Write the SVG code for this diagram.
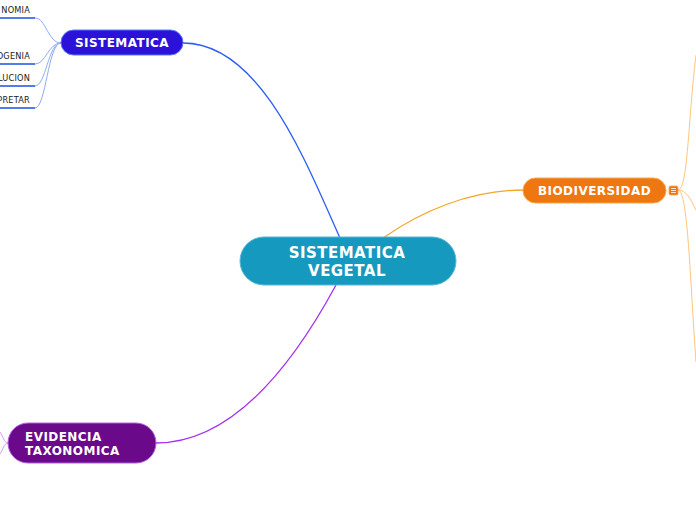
<svg xmlns="http://www.w3.org/2000/svg" width="696" height="520" viewBox="0 0 696 520">
<style>
.t{font-family:"DejaVu Sans",Verdana,sans-serif;font-weight:bold;fill:#fff;letter-spacing:0.45px}
.s{font-family:"DejaVu Sans",Verdana,sans-serif;font-size:8.2px;fill:#222;text-anchor:end;letter-spacing:0.2px}
.c{fill:none;stroke-width:1.3}
</style>
<rect width="696" height="520" fill="#fff"/>
<g id="connectors">
<path class="c" stroke="#2c5cf5" d="M183,43 C260,43 305,160 340,238"/>
<path class="c" stroke="#f5a52a" d="M383,238 C420,212 470,190 523,190"/>
<path class="c" stroke="#a42ef0" d="M336,285 C290,370 230,443 156,443"/>
<g stroke="#8eabf2" fill="none" stroke-width="1">
<path d="M61,43 C48,43 46,18 35,18"/>
<path d="M61,43 C48,43 46,64 35,64"/>
<path d="M61,43 C48,43 46,86 35,86"/>
<path d="M61,43 C48,43 46,108 35,108"/>
</g>
<g stroke="#1a50e0" stroke-width="1.5">
<path d="M0,18 H35"/><path d="M0,64 H35"/><path d="M0,86 H35"/><path d="M0,108 H35"/>
</g>
<g stroke="#fcc67c" fill="none" stroke-width="1">
<path d="M678,190 C688,190 688,120 696,55"/>
<path d="M678,190 C688,190 690,280 696,362"/>
<path d="M678,190 C686,190 690,198 696,210"/>
</g>
<g stroke="#d69af0" fill="none" stroke-width="1">
<path d="M8,443 C4,443 3,436 0,432"/>
<path d="M8,443 C4,443 3,450 0,454"/>
</g>
</g>
<g id="children-sistematica">
<text class="s" x="30" y="13">NOMIA</text>
<text class="s" x="30" y="59">OGENIA</text>
<text class="s" x="30" y="81">LUCION</text>
<text class="s" x="30" y="103">PRETAR</text>
</g>
<g id="center">
<rect x="240" y="237" width="216" height="48" rx="24" fill="#1599bf" stroke="#5ab8d8" stroke-width="1"/>
<text class="t" font-size="15" text-anchor="middle" x="347" y="258">SISTEMATICA</text>
<text class="t" font-size="15" text-anchor="middle" x="347" y="276">VEGETAL</text>
</g>
<g id="sistematica">
<rect x="61" y="30" width="122" height="25" rx="12.5" fill="#2b12d8" stroke="#5a78f5" stroke-width="1"/>
<text class="t" font-size="12" text-anchor="middle" x="122" y="47">SISTEMATICA</text>
</g>
<g id="biodiversidad">
<rect x="523" y="178" width="143" height="25" rx="12.5" fill="#ee7711" stroke="#f7a84a" stroke-width="1"/>
<text class="t" font-size="12" text-anchor="middle" x="594.5" y="195">BIODIVERSIDAD</text>
<rect x="669" y="186" width="9" height="9" rx="1.5" fill="#ee7711" stroke="#f7a84a" stroke-width="0.8"/>
<path d="M671,188.5 H676 M671,190.5 H676 M671,192.5 H676" stroke="#fff" stroke-width="0.8"/>
</g>
<g id="evidencia">
<rect x="8" y="423" width="148" height="40" rx="20" fill="#6a0a8a" stroke="#b060e0" stroke-width="1"/>
<text class="t" font-size="12" x="25" y="441">EVIDENCIA</text>
<text class="t" font-size="12" x="25" y="455">TAXONOMICA</text>
</g>
</svg>
